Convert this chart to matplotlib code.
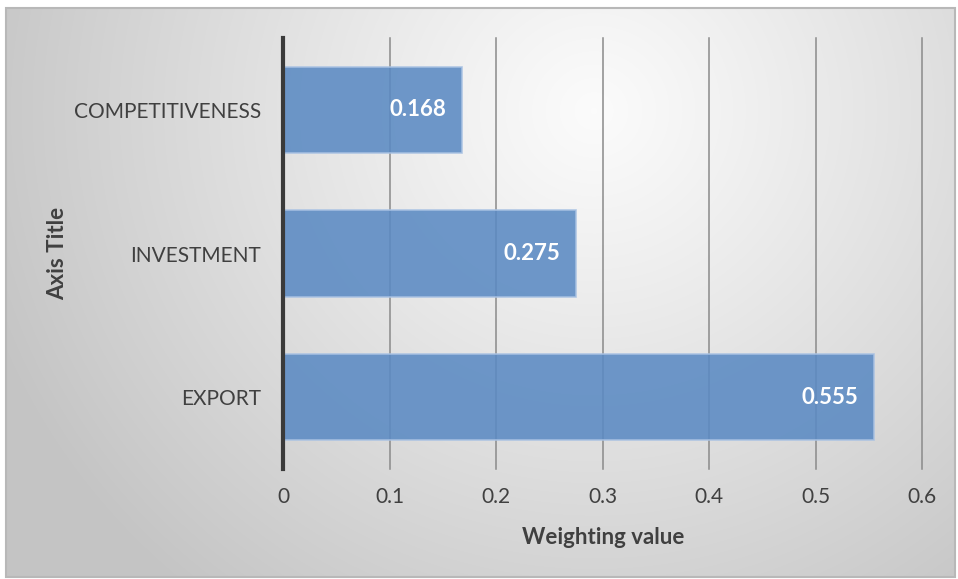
import numpy as np
import matplotlib
matplotlib.use("Agg")
import matplotlib.pyplot as plt
from matplotlib.patches import Rectangle

categories = ["EXPORT", "INVESTMENT", "COMPETITIVENESS"]
values = [0.555, 0.275, 0.168]
x_ticks = [0, 0.1, 0.2, 0.3, 0.4, 0.5, 0.6]
x_tick_labels = ["0", "0.1", "0.2", "0.3", "0.4", "0.5", "0.6"]

FONT = ["Lato", "DejaVu Sans"]
plt.rcParams['font.family'] = FONT

W, H = 958, 579
fig = plt.figure(figsize=(W / 100, H / 100), dpi=100)
fig.patch.set_facecolor("white")

# Background chart area with radial gradient
x0, y0, x1, y1 = 6, 8, 955, 577
bg = fig.add_axes([x0 / W, 1 - y1 / H, (x1 - x0) / W, (y1 - y0) / H])
gx = np.linspace(0, 1, 400)
gy = np.linspace(0, 1, 250)
GX, GY = np.meshgrid(gx, gy)
cx, cy = 0.62, 0.18
d = np.sqrt(((GX - cx) * 1.0) ** 2 + ((GY - cy) * 0.62) ** 2)
d = np.clip(d / 0.68, 0, 1)
lo, hi = 0.985, 0.77
val = hi + (lo - hi) * (1 - d ** 1.1)
img = np.dstack([val, val, val])
bg.imshow(img, aspect="auto", extent=[0, 1, 1, 0], interpolation="bilinear")
bg.set_xlim(0, 1)
bg.set_ylim(1, 0)
bg.axis("off")
bg.add_patch(Rectangle((0, 0), 1, 1, fill=False, edgecolor="#b8b8b8", lw=1.5,
                       transform=bg.transAxes, clip_on=False))

# Main axes
ax_l, ax_r, ax_t, ax_b = 283, 922, 38, 469
ax = fig.add_axes([ax_l / W, 1 - ax_b / H, (ax_r - ax_l) / W, (ax_b - ax_t) / H])
ax.patch.set_alpha(0)

ypos = np.arange(len(categories))
ax.barh(ypos, values, height=0.6, color="#5b8ac3", alpha=0.88,
        edgecolor="#a9c2e3", linewidth=1.2, zorder=3)

ax.set_xlim(0, 0.6)
ax.set_ylim(-0.5, len(categories) - 0.5)
ax.set_xticks(x_ticks)
ax.set_xticklabels(x_tick_labels)
ax.set_yticks(ypos)
ax.set_yticklabels(categories)

for xt in x_ticks[1:]:
    ax.plot([xt, xt], [-0.5, 2.5], color="#8a8a8a", lw=1.1, zorder=2,
            clip_on=False)

for s in ["top", "right", "bottom"]:
    ax.spines[s].set_visible(False)
ax.spines["left"].set_color("#3a3a3a")
ax.spines["left"].set_linewidth(3)
ax.spines["left"].set_zorder(5)

ax.tick_params(axis="x", length=0, pad=13, labelsize=15, labelcolor="#404040")
ax.tick_params(axis="y", length=0, pad=16, labelsize=15, labelcolor="#404040")

for y, v in zip(ypos, values):
    ax.annotate(f"{v:.3f}", xy=(v, y), xytext=(-11.5, 0), textcoords="offset points",
                ha="right", va="center", color="white", fontsize=16,
                fontweight="bold", zorder=6)

fig.text(603 / W, 1 - 538 / H, "Weighting value", ha="center", va="center",
         fontsize=16, fontweight="bold", color="#404040")
fig.text(58 / W, 1 - 253 / H, "Axis Title", ha="center", va="center",
         rotation=90, fontsize=16, fontweight="bold", color="#404040")

fig.savefig("out.png", dpi=100)
